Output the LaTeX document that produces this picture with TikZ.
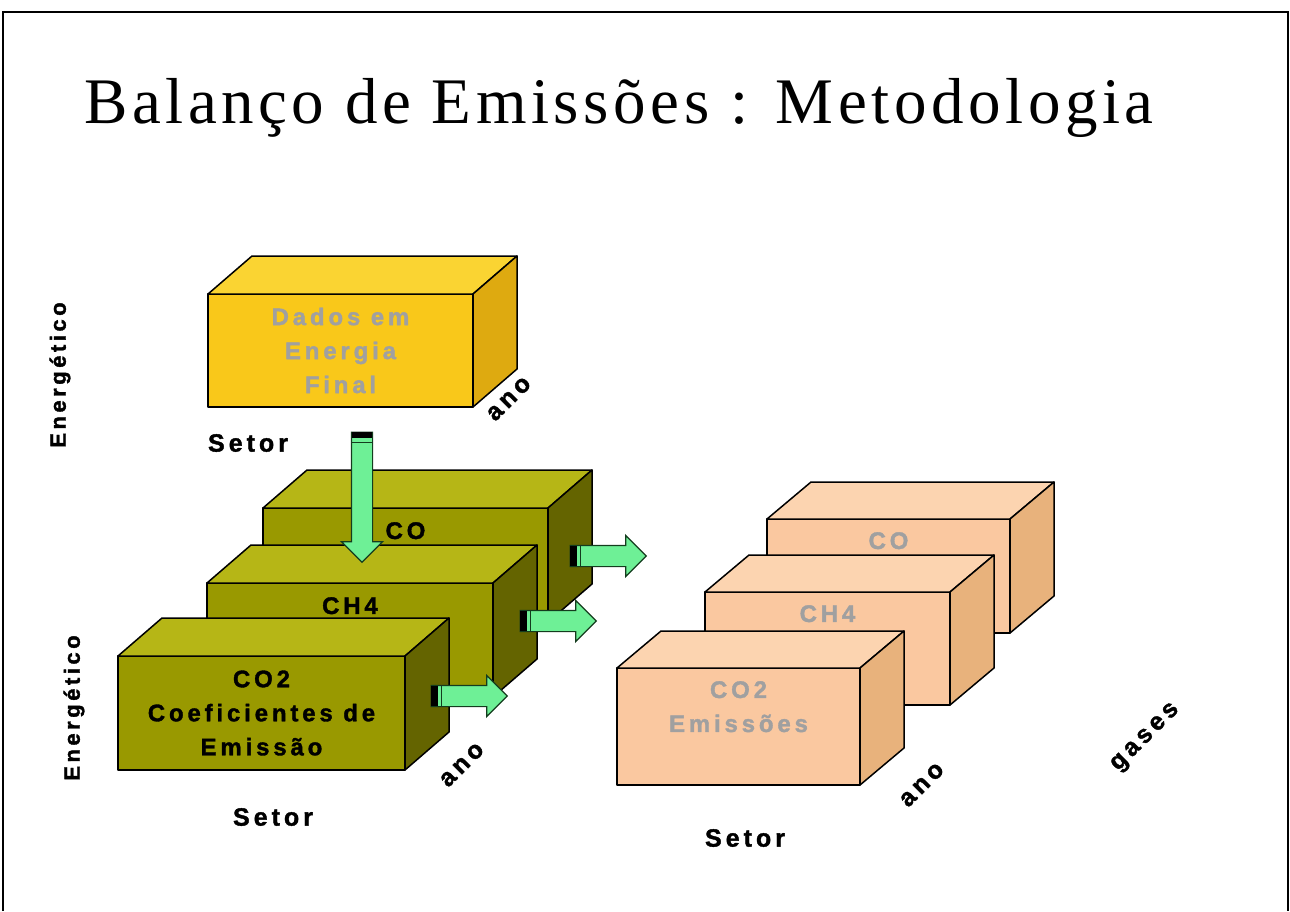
\documentclass[tikz,border=0pt]{standalone}
\usepackage{fontspec}
\setmainfont{Liberation Serif}
\newfontfamily\titulofont{Liberation Serif}[LetterSpace=7]
\newfontfamily\caixafont{Liberation Sans Bold}[LetterSpace=16, FakeBold=1.5]
\usetikzlibrary{shapes.arrows,positioning}

\definecolor{amarelo}{RGB}{249,200,26}
\definecolor{amarelotopo}{RGB}{250,212,50}
\definecolor{amarelolado}{RGB}{222,170,16}
\definecolor{oliva}{RGB}{153,153,0}
\definecolor{olivatopo}{RGB}{182,182,22}
\definecolor{olivalado}{RGB}{100,100,0}
\definecolor{pessego}{RGB}{250,200,160}
\definecolor{pessegotopo}{RGB}{252,212,176}
\definecolor{pessegolado}{RGB}{232,178,124}
\definecolor{verdeclaro}{RGB}{110,240,150}
\definecolor{verdeesc}{RGB}{20,60,30}
\definecolor{cinzatexto}{RGB}{160,160,160}

\begin{document}
\begin{tikzpicture}[x=1pt, y=-1pt,
    face/.style={draw, line width=1.5pt, line join=round, outer sep=0pt, inner sep=0pt,
        anchor=north west, align=center, font=\caixafont\fontsize{24}{34}\selectfont},
    lado/.style={draw, line width=1.5pt, line join=round},
    rotulo/.style={inner sep=0pt, align=center, font=\caixafont\fontsize{24}{34}\selectfont},
    eixo/.style={inner sep=0pt, font=\caixafont\fontsize{25}{28}\selectfont},
    seta/.style={single arrow, draw=verdeesc, fill=verdeclaro, line width=1.2pt,
        inner xsep=0pt, inner ysep=10pt, single arrow head extend=10pt, outer sep=0pt}]
    \useasboundingbox (0,0) rectangle (1290,911);
    % Moldura
    \draw[line width=1.5pt] (3,911) -- (3,12) -- (1288,12) -- (1288,911);

    % Titulo
    \node[anchor=base west, inner sep=0pt, font=\titulofont\fontsize{65}{70}\selectfont] (titulo) at (84,123)
        {Balanço de Emissões : Metodologia};

    % Dados em energia final
    \node[face, fill=amarelo, text=cinzatexto, minimum width=265pt, minimum height=113pt] (dados) at (208,294)
        {Dados em\\Energia\\Final};
    \filldraw[lado, fill=amarelotopo] (dados.north west) -- ++(44,-38) -- ([shift={(44,-38)}]dados.north east) -- (dados.north east) -- cycle;
    \filldraw[lado, fill=amarelolado] (dados.north east) -- ++(44,-38) -- ([shift={(44,-38)}]dados.south east) -- (dados.south east) -- cycle;

    % Coeficientes (CO, CH4, CO2)
    \node[face, fill=oliva, minimum width=285pt, minimum height=114pt] (coefco) at (263,508) {};
    \filldraw[lado, fill=olivatopo] (coefco.north west) -- ++(44,-38) -- ([shift={(44,-38)}]coefco.north east) -- (coefco.north east) -- cycle;
    \filldraw[lado, fill=olivalado] (coefco.north east) -- ++(44,-38) -- ([shift={(44,-38)}]coefco.south east) -- (coefco.south east) -- cycle;
    \node[rotulo, below=14pt of coefco.north] (coefcot) {CO};

    \node[face, fill=oliva, minimum width=286pt, minimum height=114pt] (coefch) at (207,583) {};
    \filldraw[lado, fill=olivatopo] (coefch.north west) -- ++(44,-38) -- ([shift={(44,-38)}]coefch.north east) -- (coefch.north east) -- cycle;
    \filldraw[lado, fill=olivalado] (coefch.north east) -- ++(44,-38) -- ([shift={(44,-38)}]coefch.south east) -- (coefch.south east) -- cycle;
    \node[rotulo, below=14pt of coefch.north] (coefcht) {CH4};

    \node[face, fill=oliva, minimum width=287pt, minimum height=114pt] (coefcd) at (118,656)
        {CO2\\Coeficientes de\\Emissão};
    \filldraw[lado, fill=olivatopo] (coefcd.north west) -- ++(44,-38) -- ([shift={(44,-38)}]coefcd.north east) -- (coefcd.north east) -- cycle;
    \filldraw[lado, fill=olivalado] (coefcd.north east) -- ++(44,-38) -- ([shift={(44,-38)}]coefcd.south east) -- (coefcd.south east) -- cycle;

    % Emissoes (CO, CH4, CO2)
    \node[face, fill=pessego, minimum width=243pt, minimum height=114pt] (emico) at (767,519) {};
    \filldraw[lado, fill=pessegotopo] (emico.north west) -- ++(44,-37) -- ([shift={(44,-37)}]emico.north east) -- (emico.north east) -- cycle;
    \filldraw[lado, fill=pessegolado] (emico.north east) -- ++(44,-37) -- ([shift={(44,-37)}]emico.south east) -- (emico.south east) -- cycle;
    \node[rotulo, text=cinzatexto, below=13pt of emico.north] (emicot) {CO};

    \node[face, fill=pessego, minimum width=245pt, minimum height=113pt] (emich) at (705,592) {};
    \filldraw[lado, fill=pessegotopo] (emich.north west) -- ++(44,-37) -- ([shift={(44,-37)}]emich.north east) -- (emich.north east) -- cycle;
    \filldraw[lado, fill=pessegolado] (emich.north east) -- ++(44,-37) -- ([shift={(44,-37)}]emich.south east) -- (emich.south east) -- cycle;
    \node[rotulo, text=cinzatexto, below=13pt of emich.north] (emicht) {CH4};

    \node[face, fill=pessego, minimum width=243pt, minimum height=117pt] (emicd) at (617,668) {};
    \filldraw[lado, fill=pessegotopo] (emicd.north west) -- ++(44,-37) -- ([shift={(44,-37)}]emicd.north east) -- (emicd.north east) -- cycle;
    \filldraw[lado, fill=pessegolado] (emicd.north east) -- ++(44,-37) -- ([shift={(44,-37)}]emicd.south east) -- (emicd.south east) -- cycle;
    \node[rotulo, text=cinzatexto, below=13pt of emicd.north] (emicdt) {CO2\\Emissões};

    % Setas
    \node[seta, minimum height=130pt, rotate=-90] (sdados) at (362,492) {};
    \fill[black] ([xshift=-10pt]sdados.tail) rectangle ++(20,6);
    \draw[verdeesc, line width=1pt] ([xshift=-10pt, yshift=-10pt]sdados.tail) -- ++(20,0);
    \node[seta, minimum height=76pt] (sco) at (603,556) {};
    \fill[black] ([yshift=10pt]sco.tail) rectangle ++(7,20);
    \draw[verdeesc, line width=1pt] ([xshift=10pt, yshift=10pt]sco.tail) -- ++(0,20);
    \node[seta, minimum height=76pt] (sch) at (553,621) {};
    \fill[black] ([yshift=10pt]sch.tail) rectangle ++(7,20);
    \draw[verdeesc, line width=1pt] ([xshift=10pt, yshift=10pt]sch.tail) -- ++(0,20);
    \node[seta, minimum height=76pt] (scd) at (464,696) {};
    \fill[black] ([yshift=10pt]scd.tail) rectangle ++(7,20);
    \draw[verdeesc, line width=1pt] ([xshift=10pt, yshift=10pt]scd.tail) -- ++(0,20);

    % Eixos
    \node[eixo, font=\caixafont\fontsize{22}{26}\selectfont, rotate=90] (energ1) at (60,375) {Energético};
    \node[eixo, font=\caixafont\fontsize{22}{26}\selectfont, rotate=90] (energ2) at (74,708) {Energético};
    \node[eixo] (setor1) at (248,443) {Setor};
    \node[eixo] (setor2) at (273,817) {Setor};
    \node[eixo] (setor3) at (745,838) {Setor};
    \node[eixo, rotate=45] (ano1) at (509,399) {ano};
    \node[eixo, rotate=45] (ano2) at (462,765) {ano};
    \node[eixo, rotate=45] (ano3) at (922,785) {ano};
    \node[eixo, rotate=45] (gases) at (1146,738) {gases};
\end{tikzpicture}
\end{document}
